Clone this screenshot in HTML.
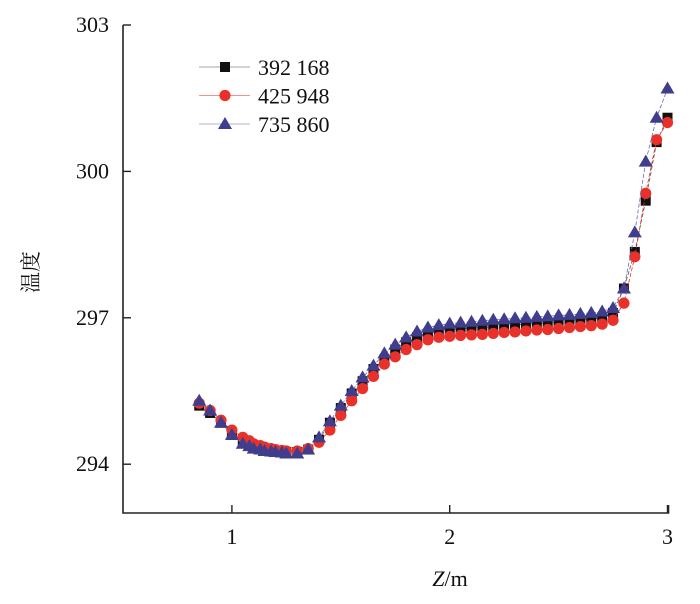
<!DOCTYPE html>
<html><head><meta charset="utf-8"><style>
body{margin:0;background:#fff;width:700px;height:599px;overflow:hidden}
text{font-family:"Liberation Serif","Noto Serif CJK SC",serif;fill:#111}
</style></head><body>
<svg id="chart" width="700" height="599" viewBox="0 0 700 599" xmlns="http://www.w3.org/2000/svg"></svg>
<script>
const xs = [0.85,0.9,0.95,1.0,1.05,1.08,1.1,1.13,1.15,1.18,1.2,1.23,1.25,1.3,1.35,1.4,1.45,1.5,1.55,1.6,1.65,1.7,1.75,1.8,1.85,1.9,1.95,2.0,2.05,2.1,2.15,2.2,2.25,2.3,2.35,2.4,2.45,2.5,2.55,2.6,2.65,2.7,2.75,2.8,2.85,2.9,2.95,3.0];
const s392168 = [295.2,295.05,294.85,294.6,294.45,294.4,294.35,294.32,294.3,294.28,294.27,294.26,294.25,294.25,294.3,294.5,294.85,295.15,295.45,295.7,295.95,296.15,296.35,296.5,296.6,296.68,296.72,296.75,296.77,296.79,296.8,296.82,296.84,296.85,296.87,296.88,296.9,296.91,296.93,296.95,296.97,297.0,297.1,297.6,298.35,299.4,300.6,301.1];
const s425948 = [295.25,295.1,294.9,294.7,294.55,294.48,294.42,294.38,294.35,294.32,294.3,294.28,294.27,294.27,294.32,294.45,294.7,295.0,295.3,295.55,295.8,296.05,296.2,296.35,296.45,296.55,296.6,296.62,296.64,296.65,296.66,296.68,296.7,296.71,296.73,296.75,296.76,296.78,296.8,296.82,296.84,296.87,296.95,297.3,298.25,299.55,300.65,301.0];
const s735860 = [295.3,295.1,294.85,294.6,294.42,294.37,294.32,294.3,294.27,294.26,294.25,294.24,294.22,294.22,294.3,294.55,294.88,295.2,295.5,295.78,296.02,296.27,296.45,296.6,296.72,296.8,296.85,296.88,296.9,296.92,296.94,296.96,296.97,296.99,297.0,297.02,297.03,297.05,297.06,297.08,297.1,297.13,297.2,297.6,298.75,300.2,301.1,301.7];
const xTicks = [1,2,3];
const yTicks = [294,297,300,303];

const svg = document.getElementById('chart');
const NS = 'http://www.w3.org/2000/svg';
const X0=123, X1=667.5, XMIN=0.5, XMAX=3;
const Y0=513, Y1=25, YMIN=293, YMAX=303;
function sx(v){return X0+(v-XMIN)/(XMAX-XMIN)*(X1-X0);}
function sy(v){return Y0-(v-YMIN)/(YMAX-YMIN)*(Y0-Y1);}
function mk(tag,attrs,parent){const e=document.createElementNS(NS,tag);for(const k in attrs)e.setAttribute(k,attrs[k]);(parent||svg).appendChild(e);return e;}

const ax = mk('g',{});


mk('path',{d:`M${X0},${Y1} V${Y0} H${X1+1} V${Y0-8}`,stroke:'#222','stroke-width':1.6,fill:'none'},ax);
yTicks.forEach(t=>{
  mk('line',{x1:X0,x2:X0+8,y1:sy(t),y2:sy(t),stroke:'#222','stroke-width':1.4},ax);
  const tx=mk('text',{x:X0-14,y:sy(t)+7,'text-anchor':'end','font-size':22},ax);
  tx.textContent=t;
  
  
});
xTicks.forEach(t=>{
  mk('line',{x1:sx(t),x2:sx(t),y1:Y0,y2:Y0-8,stroke:'#222','stroke-width':1.4},ax);
  const tx=mk('text',{x:sx(t),y:Y0+31,'text-anchor':'middle','font-size':22},ax);
  tx.textContent=t;
  
  
});
const xt=mk('text',{x:450,y:586,'text-anchor':'middle','font-size':22});
xt.innerHTML='<tspan font-style="italic">Z</tspan>/m';


const yt=mk('text',{x:38,y:272,'text-anchor':'middle','font-size':21,transform:'rotate(-90 38 272)'});
yt.textContent='温度';



const series=[
 {name:'392 168',vals:s392168,color:'#111',line:'#555',shape:'square'},
 {name:'425 948',vals:s425948,color:'#e8312a',line:'#e8312a',shape:'circle'},
 {name:'735 860',vals:s735860,color:'#3f3d8c',line:'#6b69b0',shape:'triangle'}
];
function marker(g,shape,cx,cy,color){
  if(shape==='square') return mk('rect',{x:cx-5,y:cy-5,width:10,height:10,fill:color},g);
  if(shape==='circle') return mk('circle',{cx:cx,cy:cy,r:5.6,fill:color},g);
  return mk('polygon',{points:`${cx},${cy-7} ${cx-7},${cy+5} ${cx+7},${cy+5}`,fill:color},g);
}
series.forEach((s,i)=>{
  const g=mk('g',{});
  
  
  const d=s.vals.map((v,j)=>(j?'L':'M')+sx(xs[j]).toFixed(1)+','+sy(v).toFixed(1)).join(' ');
  mk('path',{d:d,fill:'none',stroke:s.line,'stroke-width':0.8,'stroke-dasharray':'4 2'},g);
  s.vals.forEach((v,j)=>{
    const m=marker(g,s.shape,sx(xs[j]),sy(v),s.color);
    
    
  });
  const ly=67+i*28.5;
  const lg=mk('g',{});
  
  
  mk('line',{x1:199,x2:250,y1:ly,y2:ly,stroke:s.line,'stroke-width':0.8,opacity:0.7},lg);
  marker(lg,s.shape,225,ly,s.color);
  const t=mk('text',{x:258,y:ly+8,'font-size':22},lg);
  t.textContent=s.name;
});
</script>
</body></html>
